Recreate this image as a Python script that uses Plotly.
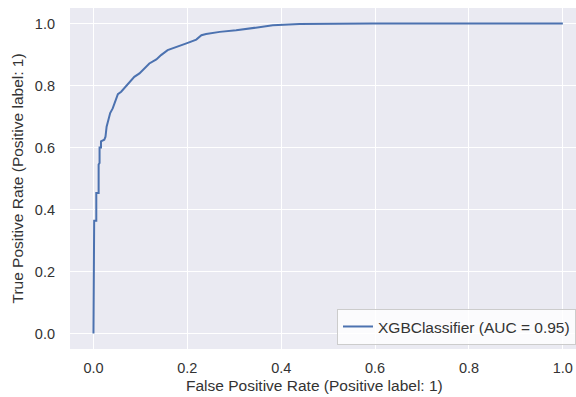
import plotly.graph_objects as go

# ROC curve points (False Positive Rate, True Positive Rate)
fpr = [0.0, 0.0, 0.0015, 0.0015, 0.006, 0.006, 0.011, 0.011, 0.013, 0.013, 0.016, 0.016,
       0.023, 0.0256, 0.028, 0.0356, 0.041, 0.047, 0.052, 0.059, 0.068, 0.077, 0.087,
       0.098, 0.109, 0.119, 0.134, 0.144, 0.158, 0.176, 0.198, 0.219, 0.230, 0.240,
       0.269, 0.304, 0.382, 0.439, 0.510, 0.595, 1.0]
tpr = [0.0, 0.20, 0.20, 0.364, 0.364, 0.453, 0.453, 0.545, 0.55, 0.60, 0.60, 0.62,
       0.625, 0.635, 0.667, 0.711, 0.726, 0.753, 0.772, 0.780, 0.796, 0.812, 0.828,
       0.839, 0.855, 0.871, 0.884, 0.898, 0.914, 0.925, 0.936, 0.948, 0.962, 0.966,
       0.973, 0.978, 0.994, 0.998, 0.999, 1.0, 1.0]
series_name = "XGBClassifier (AUC = 0.95)"
tick_vals = [0.0, 0.2, 0.4, 0.6, 0.8, 1.0]
tick_text = ["0.0", "0.2", "0.4", "0.6", "0.8", "1.0"]
x_title = "False Positive Rate (Positive label: 1)"
y_title = "True Positive Rate (Positive label: 1)"

FONT = "Liberation Sans, Arial, sans-serif"
TXT = "#333333"

fig = go.Figure()
fig.add_trace(go.Scatter(x=fpr, y=tpr, mode="lines", name=series_name,
                         line=dict(color="#4C72B0", width=2), showlegend=True))

fig.update_layout(
    width=576, height=397,
    margin=dict(l=70, r=0, t=8, b=48),
    paper_bgcolor="white", plot_bgcolor="#EAEAF2",
    font=dict(family=FONT, size=14, color=TXT),
    showlegend=True,
    legend=dict(x=1, xanchor="right", y=0.012, yanchor="bottom",
                bgcolor="rgba(255,255,255,0.8)", bordercolor="#cccccc", borderwidth=1,
                font=dict(family=FONT, size=15.5, color=TXT),
                itemwidth=30, tracegroupgap=0),
    annotations=[
        dict(text=x_title, xref="paper", yref="paper", x=0.484, y=-0.1085,
             xanchor="center", yanchor="middle", showarrow=False,
             font=dict(family=FONT, size=15.5, color=TXT)),
        dict(text=y_title, xref="paper", yref="paper", x=-0.1028, y=0.5,
             xanchor="center", yanchor="middle", showarrow=False, textangle=-90,
             font=dict(family=FONT, size=15.5, color=TXT)),
    ],
)
fig.update_xaxes(range=[-0.05, 1.028], tickvals=tick_vals, ticktext=tick_text,
                 showgrid=True, gridcolor="white", gridwidth=1.3, zeroline=False,
                 showline=False, ticks="", ticklabelstandoff=8,
                 tickfont=dict(family=FONT, size=14.5, color=TXT))
fig.update_yaxes(range=[-0.05, 1.05], tickvals=tick_vals, ticktext=tick_text,
                 showgrid=True, gridcolor="white", gridwidth=1.3, zeroline=False,
                 showline=False, ticks="", ticklabelstandoff=14,
                 tickfont=dict(family=FONT, size=14.5, color=TXT))

fig.write_html("out.html")
